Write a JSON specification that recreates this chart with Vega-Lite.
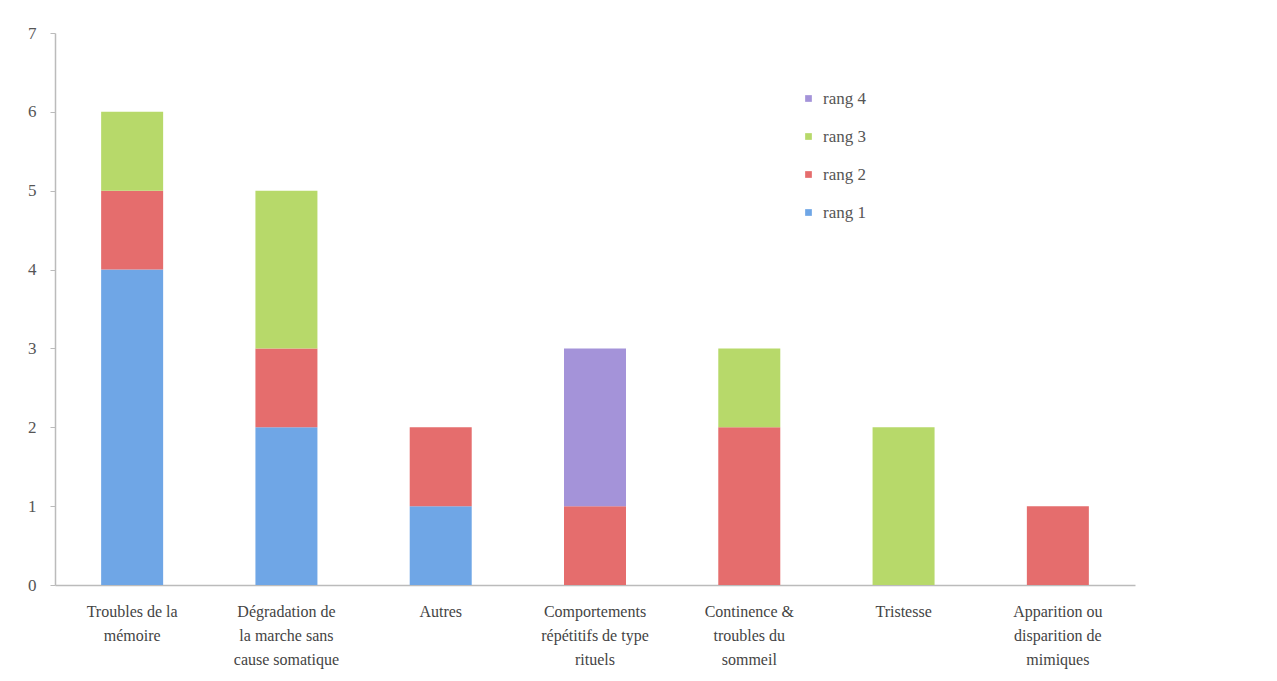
{
  "$schema": "https://vega.github.io/schema/vega-lite/v6.json",
  "autosize": {"type": "none"},
  "padding": {"left": 55, "top": 33, "right": 142, "bottom": 96},
  "width": 1080,
  "height": 552,
  "background": "white",
  "config": {"view": {"stroke": null}, "font": "Liberation Serif"},
  "data": {"values": [
    {"cat": "Troubles de la|mémoire", "rang": "rang 1", "n": 4, "o": 1},
    {"cat": "Troubles de la|mémoire", "rang": "rang 2", "n": 1, "o": 2},
    {"cat": "Troubles de la|mémoire", "rang": "rang 3", "n": 1, "o": 3},
    {"cat": "Dégradation de|la marche sans|cause somatique", "rang": "rang 1", "n": 2, "o": 1},
    {"cat": "Dégradation de|la marche sans|cause somatique", "rang": "rang 2", "n": 1, "o": 2},
    {"cat": "Dégradation de|la marche sans|cause somatique", "rang": "rang 3", "n": 2, "o": 3},
    {"cat": "Autres", "rang": "rang 1", "n": 1, "o": 1},
    {"cat": "Autres", "rang": "rang 2", "n": 1, "o": 2},
    {"cat": "Comportements|répétitifs de type|rituels", "rang": "rang 2", "n": 1, "o": 2},
    {"cat": "Comportements|répétitifs de type|rituels", "rang": "rang 4", "n": 2, "o": 4},
    {"cat": "Continence &|troubles du|sommeil", "rang": "rang 2", "n": 2, "o": 2},
    {"cat": "Continence &|troubles du|sommeil", "rang": "rang 3", "n": 1, "o": 3},
    {"cat": "Tristesse", "rang": "rang 3", "n": 2, "o": 3},
    {"cat": "Apparition ou|disparition de|mimiques", "rang": "rang 2", "n": 1, "o": 2}
  ]},
  "mark": {"type": "bar", "width": 62},
  "encoding": {
    "x": {
      "field": "cat", "type": "nominal", "sort": null,
      "scale": {"paddingInner": 0, "paddingOuter": 0},
      "axis": {
        "title": null, "labelAngle": 0, "labelExpr": "split(datum.label, '|')",
        "labelFontSize": 16, "labelColor": "#444", "labelLineHeight": 24,
        "labelPadding": 18, "ticks": false, "domainColor": "#bbb", "domainWidth": 1.5
      }
    },
    "y": {
      "field": "n", "type": "quantitative", "aggregate": "sum",
      "scale": {"domain": [0, 7], "nice": false},
      "axis": {
        "title": null, "values": [0,1,2,3,4,5,6,7], "grid": false,
        "labelFontSize": 17, "labelColor": "#555", "labelPadding": 14,
        "tickSize": 5, "tickColor": "#bbb", "domainColor": "#bbb", "domainWidth": 1.5
      }
    },
    "color": {
      "field": "rang", "type": "nominal",
      "scale": {"domain": ["rang 1", "rang 2", "rang 3", "rang 4"], "range": ["#6fa6e6", "#e56d6d", "#b7d96a", "#a493d9"]},
      "legend": {
        "title": null, "orient": "none", "legendX": 745, "legendY": 57,
        "values": ["rang 4", "rang 3", "rang 2", "rang 1"],
        "symbolType": "square", "symbolSize": 45, "labelFontSize": 17, "labelColor": "#555",
        "rowPadding": 20, "labelOffset": 6
      }
    },
    "order": {"field": "o", "type": "quantitative"}
  }
}
